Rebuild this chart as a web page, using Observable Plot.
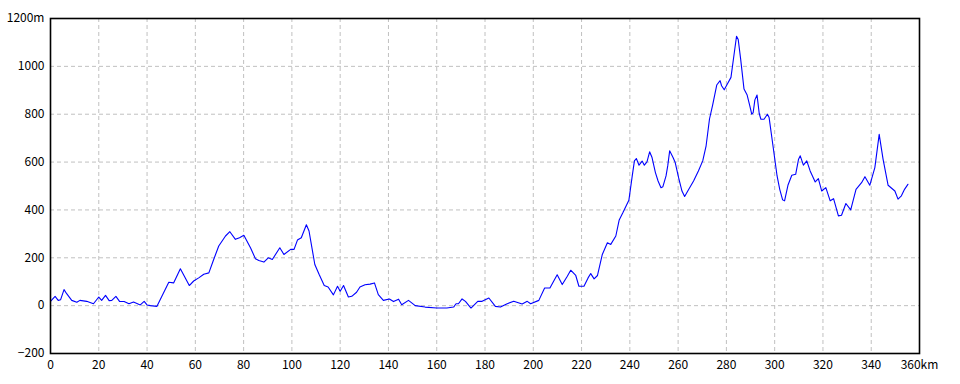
<!DOCTYPE html>
<html>
<head>
<meta charset="utf-8">
<script src="https://cdn.jsdelivr.net/npm/d3@7"></script>
<script src="https://cdn.jsdelivr.net/npm/@observablehq/plot@0.6"></script>
<style>
  html, body { margin: 0; padding: 0; background: #fff; }
  #chart svg { display: block; }
</style>
</head>
<body>
<div id="chart"></div>
<script>
// distance along route (km)
const km = [
  0, 1.9, 3.2, 4.2, 5.6, 6.7, 8.8, 10.9, 12.2, 15, 17.8, 20, 21.2, 22.8, 24.3, 25.4, 27.1, 28.6, 30.5, 32.5,
  34.4, 37.2, 38.8, 40, 41.4, 44.1, 49, 51, 53.8, 57.5, 59.3, 61.4, 63.5, 65.6, 67.6, 69.7, 72.5, 74.3, 76.6, 78.3,
  80.1, 82.9, 84.9, 86.3, 88.4, 90.2, 91.9, 95, 96.7, 99.5, 100.9, 102.3, 103.9, 106, 107.1, 109.5, 111.3, 113.4, 115, 117.2,
  118.9, 120, 121.4, 123.4, 124.8, 126.8, 128.2, 130.3, 132.4, 134.2, 135.8, 137.9, 140.4, 142.1, 144.2, 145.5, 148.3, 151.1, 155.2, 160,
  164.2, 167, 168, 169, 170.5, 171.9, 174.2, 177, 178.8, 181.6, 184.3, 186.4, 189.2, 191.9, 195.4, 197.5, 198.9, 202.3, 204.7, 206.9,
  209.9, 212, 214.1, 215.5, 217.6, 218.9, 221, 222.7, 223.8, 225.2, 226.6, 228.6, 230.7, 232.1, 234.2, 235.6, 237.2, 238.6, 239.6, 241,
  241.9, 242.7, 243.8, 245.1, 246, 247.1, 248.2, 249.2, 250.6, 251.7, 252.9, 253.7, 255, 255.7, 256.5, 257.9, 258.8, 260.2, 261.6, 262.7,
  264.3, 266.4, 268.4, 270.2, 271.6, 273, 274.3, 276, 277.4, 278, 279.1, 280.4, 281.9, 283.3, 284.2, 284.9, 285.9, 287.3, 288.6, 289.7,
  290.5, 291.1, 291.8, 292.7, 293.6, 294.3, 295.6, 297, 297.7, 299.3, 301, 302.1, 303.3, 304.1, 305.5, 307.1, 308.7, 309.9, 310.6, 311.9,
  313.3, 314.7, 316.8, 318.1, 319.5, 321.2, 323, 324.4, 326.4, 327.7, 329.5, 331.5, 333.7, 336, 337.4, 339.4, 341.5, 343.3, 344.9, 347,
  349.8, 351.1, 352.5, 353.8, 355.2
];
// elevation (m)
const elevation = [
  18, 39, 22, 25, 67, 50, 22, 14, 22, 18, 8, 36, 22, 43, 21, 22, 39, 18, 17, 8,
  15, 3, 18, 3, 0, -3, 98, 95, 154, 84, 103, 116, 131, 137, 193, 249, 291, 309, 277, 284,
  294, 241, 196, 189, 182, 200, 193, 242, 214, 235, 235, 274, 284, 338, 312, 172, 130, 84, 78, 45,
  81, 60, 84, 36, 39, 56, 78, 87, 90, 95, 46, 22, 28, 17, 27, 4, 22, 0, -6, -10,
  -10, -6, 8, 8, 28, 18, -10, 18, 18, 32, -3, -6, 8, 18, 7, 18, 8, 22, 74, 74,
  129, 88, 123, 148, 126, 81, 81, 116, 134, 112, 126, 214, 263, 256, 291, 358, 390, 420, 440, 542,
  605, 615, 587, 604, 587, 601, 643, 619, 556, 521, 493, 497, 542, 584, 647, 619, 598, 535, 479, 456,
  484, 521, 563, 605, 668, 780, 838, 922, 940, 919, 902, 926, 954, 1059, 1126, 1112, 1031, 905, 880, 835,
  800, 807, 860, 880, 803, 779, 779, 800, 786, 668, 542, 486, 442, 438, 503, 545, 549, 612, 626, 587,
  605, 563, 517, 531, 479, 493, 438, 447, 375, 378, 427, 400, 486, 514, 539, 503, 577, 716, 612, 503,
  479, 445, 459, 486, 507
];
const xTicks = [0, 20, 40, 60, 80, 100, 120, 140, 160, 180, 200, 220, 240, 260, 280, 300, 320, 340, 360];
const yTicks = [-200, 0, 200, 400, 600, 800, 1000, 1200];
const xUnit = "km";
const yUnit = "m";

const profile = km.map((d, i) => ({km: d, elev: elevation[i]}));
const xGrid = xTicks.slice(1, -1);
const yGrid = yTicks.slice(1, -1);

const chart = Plot.plot({
  width: 960,
  height: 384,
  marginLeft: 50,
  marginRight: 41,
  marginTop: 18,
  marginBottom: 31,
  style: {fontFamily: "'Noto Sans CJK JP', 'DejaVu Sans', sans-serif", fontSize: "12px", color: "#000", background: "#fff"},
  x: {domain: [0, 360]},
  y: {domain: [-200, 1200]},
  marks: [
    Plot.gridX(xGrid, {stroke: "#c0c0c0", strokeOpacity: 1, strokeDasharray: "4,3"}),
    Plot.gridY(yGrid, {stroke: "#c0c0c0", strokeOpacity: 1, strokeDasharray: "4,3"}),
    Plot.line(profile, {x: "km", y: "elev", stroke: "#0000ff", strokeWidth: 1.1}),
    Plot.frame({stroke: "#000", strokeWidth: 1.6}),
    Plot.axisX({ticks: xTicks, tickSize: 0, tickPadding: 7, label: null,
      tickFormat: d => d === 360 ? d + xUnit : String(d)}),
    Plot.axisY({ticks: yTicks, tickSize: 0, tickPadding: 6, label: null,
      tickFormat: d => d === 1200 ? d + yUnit : (d < 0 ? "\u2212" + Math.abs(d) : String(d))})
  ]
});
document.getElementById("chart").appendChild(chart);
</script>
</body>
</html>
